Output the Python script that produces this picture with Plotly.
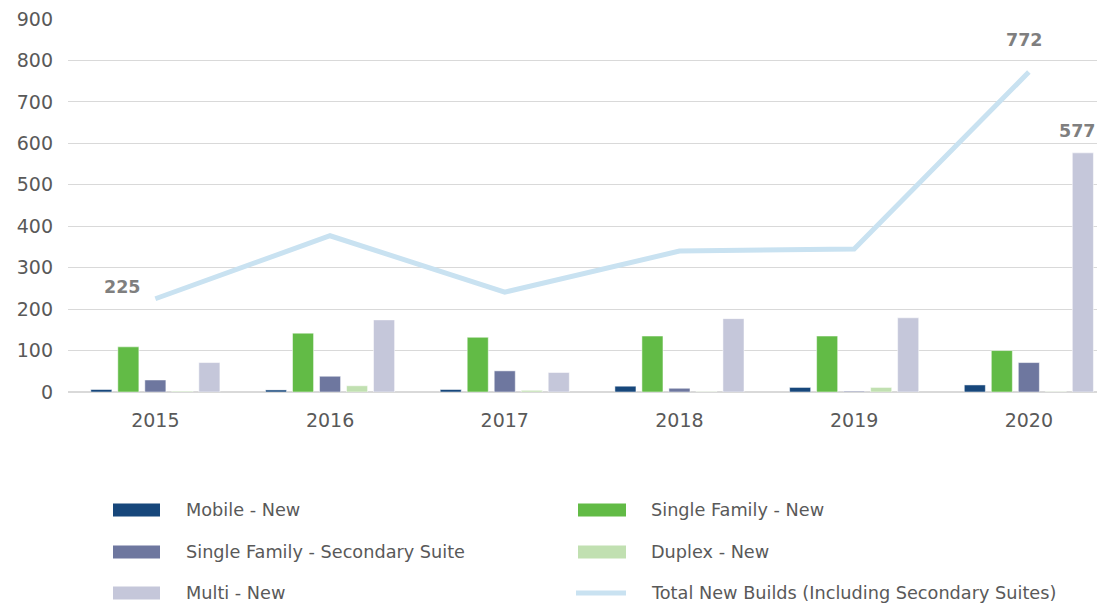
import plotly.graph_objects as go

years = ["2015", "2016", "2017", "2018", "2019", "2020"]
mobile_new = [6, 5, 6, 14, 11, 17]
single_family_new = [109, 142, 132, 135, 135, 100]
secondary_suite = [29, 38, 51, 9, 2, 71]
duplex_new = [2, 15, 4, 1, 11, 1]
multi_new = [71, 174, 47, 177, 179, 577]
total_new = [225, 377, 241, 340, 345, 772]

series_names = ["Mobile - New", "Single Family - New", "Single Family - Secondary Suite",
                "Duplex - New", "Multi - New"]
series_values = [mobile_new, single_family_new, secondary_suite, duplex_new, multi_new]
series_colors = ["#17477b", "#62bb46", "#6e779f", "#c1e0b1", "#c5c7da"]
total_name = "Total New Builds (Including Secondary Suites)"
total_color = "#c9e2f1"

FONT = "DejaVu Sans"
TXT = "#595959"

OFF = 8  # page body margin
W, H = 1105 - OFF, 604 - OFF
L, R, T = 68 - OFF, 0, 19 - OFF
B = H - (392 - OFF)
PW, PH = W - L - R, H - T - B

fig = go.Figure()
for name, vals, col in zip(series_names, series_values, series_colors):
    fig.add_trace(go.Bar(x=years, y=vals, name=name, marker_color=col,
                         marker_line_color="white", marker_line_width=0.5,
                         showlegend=False))
fig.add_trace(go.Scatter(x=years, y=total_new, name=total_name, mode="lines",
                         line=dict(color=total_color, width=5), showlegend=False))

# data labels (category index positions)
lab = dict(font=dict(family=FONT, size=17.5, color="#7f7f7f", weight="bold"), showarrow=False,
           xref="x", yref="y")
n = len(years)
fig.add_annotation(x=0, y=total_new[0], text=str(total_new[0]), xshift=-33, yshift=12, **lab)
fig.add_annotation(x=n - 1, y=total_new[-1], text=str(total_new[-1]), xshift=-4, yshift=32, **lab)
fig.add_annotation(x=n - 1, y=multi_new[-1], text=str(multi_new[-1]), xshift=49, yshift=22, **lab)

# manual legend (coordinates in picture pixels)
def px2paper(px, py):
    return (px - OFF - L) / PW, (H - B - (py - OFF)) / PH

legend_items = list(zip(series_names, series_colors)) + [(total_name, total_color)]
col_x = [(113, 160, 184), (578, 626, 649)]
row_y = [510, 552, 593]
for i, (name, col) in enumerate(legend_items):
    c, r = i % 2, i // 2
    x0, x1, tx = col_x[c]
    cy = row_y[r]
    if name == total_name:
        a0, b0 = px2paper(x0 - 2, cy)
        a1, b1 = px2paper(x1, cy)
        fig.add_shape(type="line", xref="paper", yref="paper", x0=a0, x1=a1, y0=b0, y1=b1,
                      line=dict(color=col, width=5))
    else:
        a0, b0 = px2paper(x0, cy + 6.5)
        a1, b1 = px2paper(x1, cy - 6.5)
        fig.add_shape(type="rect", xref="paper", yref="paper", x0=a0, x1=a1, y0=b0, y1=b1,
                      fillcolor=col, line=dict(width=0))
    ax, ay = px2paper(tx, cy)
    fig.add_annotation(xref="paper", yref="paper", x=ax, y=ay, text=name, showarrow=False,
                       xanchor="left", yanchor="middle",
                       font=dict(family=FONT, size=17.7, color=TXT))

fig.update_layout(
    width=W, height=H,
    margin=dict(l=L, r=R, t=T, b=B, pad=0),
    plot_bgcolor="white", paper_bgcolor="white",
    barmode="group", bargap=0.227, bargroupgap=0.22,
    font=dict(family=FONT, size=18, color=TXT),
    showlegend=False,
    xaxis=dict(type="category", range=[-0.5, -0.5 + PW / 174.7], showgrid=False,
               showline=False, ticks="", ticklabelstandoff=15,
               tickfont=dict(family=FONT, size=19, color=TXT)),
    yaxis=dict(range=[0, 900], dtick=100, showgrid=True, gridcolor="#d9d9d9", gridwidth=1,
               zeroline=True, zerolinecolor="#d9d9d9", zerolinewidth=1.5,
               showline=False, ticks="", ticklabelstandoff=14, ticklabeloverflow="allow",
               tickfont=dict(family=FONT, size=19, color=TXT)),
)

fig.write_html("out.html")
